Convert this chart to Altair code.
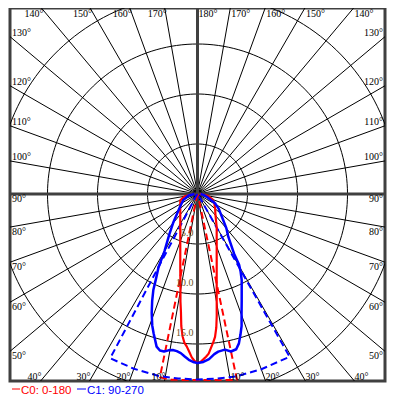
import math
import altair as alt
import pandas as pd

# ---------------- chart values ----------------
ANGLE_LABELS = [10, 20, 30, 40, 50, 60, 70, 80, 90, 100, 110, 120, 130, 140, 150, 160, 170, 180]
SPOKE_ANGLES = [0, 10, 20, 30, 40, 50, 60, 70, 80, 90, 100, 110, 120, 130, 140, 150, 160, 170]
RING_VALUES = [5, 10, 15, 20]
RING_LABEL_VALUES = [5, 10, 15]
RING_LABEL_TEXT = ["5.0", "10.0", "15.0"]

# C0 plane, solid red (angle from nadir, negative = left half)
RED_SOLID_THETA = [-90, -80, -70, -60, -50, -40, -30, -25, -20, -15, -12.5, -10, -9, -8, -7, -6, -5, -4, -3, -2, -1,
                   0, 1, 2, 3, 4, 5, 6, 7, 8, 9, 10, 12.5, 15, 20, 25, 30, 40, 50, 60, 70, 80, 90]
RED_SOLID_R = [0.3, 1.3, 1.83, 1.99, 2.25, 2.68, 3.44, 4.07, 5.03, 6.65, 7.95, 9.8, 10.9, 11.9, 13.3, 14.3, 14.95, 15.3, 15.8, 16.35, 16.7,
               16.9, 16.8, 16.55, 16.3, 16.0, 15.45, 14.95, 14.4, 13.5, 12.3, 11.06, 8.87, 7.42, 5.61, 4.54, 3.84, 2.8, 2.3, 1.95, 1.6, 1.05, 0.25]

# C0 plane, dashed red
RED_DASH_THETA = [-90, -15, -11.6, -8, -4, 0, 4, 8, 12, 15, 90]
RED_DASH_R = [0.0, 0.3, 18.7, 18.75, 18.65, 18.6, 18.65, 18.8, 19.0, 0.3, 0.0]

# C90 plane, solid blue
BLUE_SOLID_THETA = [-90, -80, -67, -54, -40, -35, -30, -28, -26, -24.7, -23, -21, -19, -17.5, -15, -13.5, -12, -10.5, -9, -7.5,
                    -6, -4.5, -3, -1.5, 0, 2, 4, 6, 7.5, 10, 12, 14, 15.5, 17, 18.5, 20.3, 22.5, 25, 27.2, 29, 30.5, 31.5,
                    35.8, 40, 45, 55, 62, 73.6, 82, 90]
BLUE_SOLID_R = [0.3, 0.9, 1.54, 2.16, 3.8, 4.9, 6.6, 8.3, 9.5, 10.57, 11.6, 12.78, 13.9, 14.6, 15.8, 16.1, 16.1, 15.9, 15.8, 15.85,
                16.0, 16.3, 16.6, 16.8, 16.9, 16.8, 16.55, 16.1, 15.9, 15.8, 16.1, 16.0, 15.5, 14.7, 13.9, 12.7, 11.55, 10.46, 9.67, 8.9, 8.2, 7.0,
                5.26, 4.5, 3.6, 2.6, 1.98, 0.96, 0.6, 0.3]

# C90 plane, dashed blue
BLUE_DASH_THETA = [-90, -35, -28, -20, -12, -6, 0, 6, 12, 20, 29.5, 35, 90]
BLUE_DASH_R = [0.0, 0.2, 18.6, 18.6, 18.6, 18.55, 18.55, 18.55, 18.65, 18.65, 18.7, 0.2, 0.0]

LEGEND_NAMES = ["C0: 0-180", "C1: 90-270"]
LEGEND_COLORS = ["#ff0000", "#0000ff"]

# ---------------- layout ----------------
XMIN, XMAX = -18.75, 18.75
YMIN, YMAX = -18.7, 18.6
W, H = 375, 373
GRID = "#000000"
FRAME = "#404040"

XS = alt.Scale(domain=[XMIN, XMAX], nice=False, zero=False)
YS = alt.Scale(domain=[YMIN, YMAX], nice=False, zero=False)
X = alt.X("x:Q", scale=XS, axis=None)
Y = alt.Y("y:Q", scale=YS, axis=None)

POLAR = dict(x="datum.r*sin(datum.theta*PI/180)", y="-datum.r*cos(datum.theta*PI/180)")

# rings
ring_df = pd.DataFrame([{"ring": rv, "theta": a, "r": rv} for rv in RING_VALUES for a in range(0, 362, 2)])
rings = alt.Chart(ring_df).mark_line(color=GRID, strokeWidth=1, clip=True).transform_calculate(**POLAR).encode(
    x=X, y=Y, detail="ring:N", order="theta:Q")

# spokes
spoke_df = pd.DataFrame({"theta": SPOKE_ANGLES, "r": [30] * len(SPOKE_ANGLES)})
spokes = alt.Chart(spoke_df).mark_rule(color=GRID, strokeWidth=1, clip=True).transform_calculate(
    **POLAR).transform_calculate(x2="-datum.x", y2="-datum.y").encode(x=X, y=Y, x2="x2:Q", y2="y2:Q")

axes_df = pd.DataFrame({"theta": [0, 90], "r": [30, 30]})
cross = alt.Chart(axes_df).mark_rule(color=FRAME, strokeWidth=3, clip=True).transform_calculate(
    **POLAR).transform_calculate(x2="-datum.x", y2="-datum.y").encode(x=X, y=Y, x2="x2:Q", y2="y2:Q")


def curve(theta, r, color, width, dash=None):
    df = pd.DataFrame({"theta": theta, "r": r, "i": list(range(len(theta)))})
    kw = dict(color=color, strokeWidth=width, clip=True, strokeJoin="round")
    if dash:
        kw["strokeDash"] = dash
    return alt.Chart(df).mark_line(**kw).transform_calculate(**POLAR).encode(x=X, y=Y, order="i:Q")


red_dash = curve(RED_DASH_THETA, RED_DASH_R, LEGEND_COLORS[0], 2, [7, 4])
blue_dash = curve(BLUE_DASH_THETA, BLUE_DASH_R, LEGEND_COLORS[1], 2, [7, 4])
red_solid = curve(RED_SOLID_THETA, RED_SOLID_R, LEGEND_COLORS[0], 2.2)
blue_solid = curve(BLUE_SOLID_THETA, BLUE_SOLID_R, LEGEND_COLORS[1], 2.5)

# angle labels placed where each spoke meets the frame
rows = []
for a in ANGLE_LABELS:
    for s in ([1] if a == 180 else [-1, 1]):
        dx = s * math.sin(math.radians(a))
        dy = -math.cos(math.radians(a))
        tx = (XMAX / dx if dx > 0 else XMIN / dx) if abs(dx) > 1e-9 else 1e9
        ty = (YMAX / dy if dy > 0 else YMIN / dy) if abs(dy) > 1e-9 else 1e9
        t = min(tx, ty)
        edge = "side" if tx < ty else ("top" if dy > 0 else "bottom")
        key = f"{edge}-{'L' if s < 0 else 'R'}-{'up' if a > 90 else 'low'}"
        rows.append({"x": t * dx, "y": t * dy, "label": f"{a}°", "key": key})
lab_df = pd.DataFrame(rows)

LABEL_STYLE = {
    "side-L-low": dict(align="left", baseline="top", dx=2, dy=0),
    "side-L-up": dict(align="left", baseline="alphabetic", dx=2, dy=-1),
    "side-R-low": dict(align="right", baseline="top", dx=-2, dy=0),
    "side-R-up": dict(align="right", baseline="alphabetic", dx=-2, dy=-1),
    "bottom-L-low": dict(align="right", baseline="alphabetic", dx=1, dy=-1),
    "bottom-R-low": dict(align="left", baseline="alphabetic", dx=0, dy=-1),
    "top-L-up": dict(align="right", baseline="top", dx=2, dy=1),
    "top-R-up": dict(align="left", baseline="top", dx=1, dy=1),
}
label_layers = []
for key, st in LABEL_STYLE.items():
    label_layers.append(
        alt.Chart(lab_df).transform_filter(alt.datum.key == key).mark_text(
            font="Liberation Serif", fontSize=10, color="#000000", **st).encode(x=X, y=Y, text="label:N"))

ring_lab_df = pd.DataFrame({"x": [0] * len(RING_LABEL_VALUES), "y": [-v for v in RING_LABEL_VALUES], "label": RING_LABEL_TEXT})
ring_labels = alt.Chart(ring_lab_df).mark_text(font="Liberation Serif", fontSize=10, color="#6e5526",
                                               align="right", baseline="alphabetic", dx=-4, dy=-8).encode(x=X, y=Y, text="label:N")

# legend below the plot
leg_df = pd.DataFrame({"name": LEGEND_NAMES, "color": LEGEND_COLORS, "x0": [2, 67], "x1": [10, 76], "tx": [11, 77]})
leg_lines = alt.Chart(leg_df).mark_rule(strokeWidth=1).encode(
    x=alt.X("x0:Q", scale=None), x2="x1:Q", y=alt.value(H + 8),
    color=alt.Color("color:N", scale=None))
leg_text = alt.Chart(leg_df).mark_text(font="Liberation Sans", fontSize=11.5, align="left", baseline="alphabetic").encode(
    x=alt.X("tx:Q", scale=None), y=alt.value(H + 13), text="name:N", color=alt.Color("color:N", scale=None))

chart = alt.layer(
    rings, spokes, cross, red_dash, blue_dash, red_solid, blue_solid, ring_labels, *label_layers, leg_lines, leg_text
).properties(
    width=W, height=H,
    padding={"left": 2, "top": 0, "right": 4, "bottom": 16},
    autosize=alt.AutoSizeParams(type="none"),
).configure_view(stroke=FRAME, strokeWidth=3)

chart.save("out.html", embed_options={"renderer": "svg", "actions": False})
